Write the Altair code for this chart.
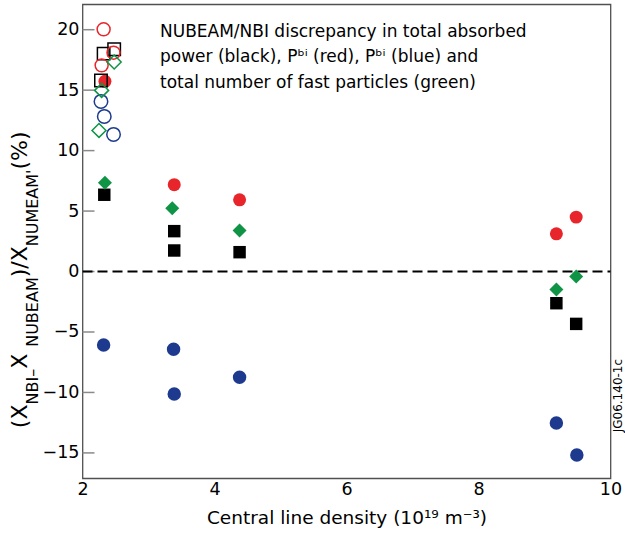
import altair as alt
import pandas as pd

FONT = "DejaVu Sans"

# ---- data ----
# filled symbols
black_x = [2.33, 3.39, 3.39, 4.38, 9.18, 9.48]
black_y = [6.35, 3.34, 1.74, 1.60, -2.62, -4.33]
red_x = [2.34, 3.39, 4.38, 9.18, 9.48]
red_y = [15.73, 7.18, 5.93, 3.12, 4.50]
blue_x = [2.32, 3.38, 3.39, 4.38, 9.18, 9.49]
blue_y = [-6.07, -6.43, -10.13, -8.75, -12.53, -15.17]
green_x = [2.34, 3.36, 4.38, 9.18, 9.48]
green_y = [7.34, 5.24, 3.39, -1.49, -0.41]

# open symbols
open_black_x = [2.48, 2.32, 2.28]
open_black_y = [18.38, 18.02, 15.80]
open_red_x = [2.32, 2.47, 2.29]
open_red_y = [20.03, 18.10, 17.05]
open_blue_x = [2.28, 2.33, 2.47]
open_blue_y = [14.07, 12.83, 11.34]
open_green_x = [2.48, 2.29, 2.25]
open_green_y = [17.33, 14.98, 11.67]

series_names = ["black", "red", "blue", "green"]
series_colors = ["#000000", "#e8252a", "#1d3a8f", "#0f9445"]
series_shapes = ["square", "circle", "circle", "diamond"]
series_sizes = [155, 195, 195, 255]

x_ticks = [2, 4, 6, 8, 10]
y_ticks = [-15, -10, -5, 0, 5, 10, 15, 20]

note_text = ("NUBEAM/NBI discrepancy in total absorbed\n"
             "power (black), P\u1d47\u2071 (red), P\u1d47\u2071 (blue) and\n"
             "total number of fast particles (green)")
note_x = [3.174]
note_y = [19.40]

x_title = "Central line density (10\u00b9\u2079 m\u207b\u00b3)"
figure_id = "JG06.140-1c"

# y-axis title pieces (main text / subscript)
y_title_parts = [
    ("(X", "main"),
    ("NBI\u2013", "sub"),
    (" X", "main"),
    ("NUBEAM", "sub"),
    (")/X", "main"),
    ("NUMEAM'", "sub"),
    (" (%)", "main"),
]

# approximate DejaVu Sans advance widths (em) used to chain the title pieces
ADV = {"(": 0.390, ")": 0.390, "X": 0.685, "N": 0.748, "B": 0.686, "I": 0.295,
       "\u2013": 0.500, "U": 0.732, "E": 0.632, "A": 0.684, "M": 0.863,
       "/": 0.337, "'": 0.275, " ": 0.318, "%": 0.950}
MAIN_FS, SUB_FS = 22, 16
MAIN_X, SUB_X = -55.5, -45.0   # baselines, relative to plot's left edge
TITLE_CENTER = 272.0           # vertical centre of the title, plot coords


def frame(xs, ys, name, filled):
    return pd.DataFrame({"x": xs, "y": ys, "series": name, "filled": filled})


filled_df = pd.concat([
    frame(black_x, black_y, "black", True),
    frame(red_x, red_y, "red", True),
    frame(blue_x, blue_y, "blue", True),
    frame(green_x, green_y, "green", True),
])
open_df = pd.concat([
    frame(open_black_x, open_black_y, "black", False),
    frame(open_red_x, open_red_y, "red", False),
    frame(open_blue_x, open_blue_y, "blue", False),
    frame(open_green_x, open_green_y, "green", False),
])

xscale = alt.Scale(domain=[2, 10], nice=False, zero=False)
yscale = alt.Scale(domain=[-17.1, 22.1], nice=False, zero=False)

xenc = alt.X("x:Q", scale=xscale, axis=alt.Axis(
    values=x_ticks, title=x_title, format="d", ticks=False, tickSize=0, domain=False,
    grid=False, labelFlush=False, labelFontSize=17.5, labelFont=FONT, labelColor="#000",
    labelBaseline="alphabetic", labelPadding=16,
    titleFont=FONT, titleFontSize=18.5, titleFontWeight="normal", titleColor="#000",
    titleBaseline="alphabetic", titleX=264, titleY=45.5))
yenc = alt.Y("y:Q", scale=yscale, axis=alt.Axis(
    values=y_ticks, title=None, ticks=False, tickSize=0, domain=False, grid=False,
    labelFontSize=17.5, labelFont=FONT, labelColor="#000", labelPadding=3.5,
    format="d"))

shape = alt.Shape("series:N", scale=alt.Scale(domain=series_names, range=series_shapes), legend=None)
color = alt.Color("series:N", scale=alt.Scale(domain=series_names, range=series_colors), legend=None)
size = alt.Size("series:N", scale=alt.Scale(domain=series_names, range=series_sizes), legend=None)

filled_layer = alt.Chart(filled_df).mark_point(filled=True, opacity=1).encode(
    x=xenc, y=yenc, shape=shape, color=color, size=size)
open_layer = alt.Chart(open_df).mark_point(filled=False, opacity=1, strokeWidth=1.5).encode(
    x="x:Q", y="y:Q", shape=shape, color=color, size=size)

tick_df = pd.DataFrame({"y": y_ticks})
tick_layer = alt.Chart(tick_df).mark_rule(color="#8a8a8a", strokeWidth=1.5).encode(
    y="y:Q", x=alt.value(0), x2=alt.value(12))

zero_layer = alt.Chart(pd.DataFrame({"y": [0]})).mark_rule(
    color="#000", strokeWidth=2, strokeDash=[10, 5]).encode(
    y="y:Q", x=alt.value(0), x2=alt.value(528))

note_layer = alt.Chart(pd.DataFrame({"x": note_x, "y": note_y, "t": [note_text]})).mark_text(
    align="left", baseline="alphabetic", font=FONT, fontSize=17, lineBreak="\n",
    lineHeight=25.5, color="#000").encode(x="x:Q", y="y:Q", text="t:N")

layers = [tick_layer, zero_layer, filled_layer, open_layer, note_layer]

# chain the rotated title pieces upward
lengths = []
for txt, kind in y_title_parts:
    fs = MAIN_FS if kind == "main" else SUB_FS
    lengths.append(sum(ADV.get(c, 0.6) for c in txt) * fs)
pos = TITLE_CENTER + sum(lengths) / 2
for (txt, kind), ln in zip(y_title_parts, lengths):
    fs = MAIN_FS if kind == "main" else SUB_FS
    xpos = MAIN_X if kind == "main" else SUB_X
    layers.append(alt.Chart(pd.DataFrame({"t": [txt]})).mark_text(
        align="left", baseline="alphabetic", angle=270, font=FONT, fontSize=fs,
        color="#000").encode(x=alt.value(xpos), y=alt.value(pos), text="t:N"))
    pos -= ln

layers.append(alt.Chart(pd.DataFrame({"t": [figure_id]})).mark_text(
    align="left", baseline="alphabetic", angle=270, font=FONT, fontSize=12,
    color="#000").encode(x=alt.value(539), y=alt.value(428), text="t:N"))

chart = alt.layer(*layers).properties(
    width=528, height=474,
    autosize=alt.AutoSizeParams(type="none"),
    padding={"left": 82.5, "top": 4.3, "right": 14.5, "bottom": 57.7},
    background="white",
).configure_view(stroke="#505050", strokeWidth=1.3)

chart.save("out.html", embed_options={"renderer": "svg", "actions": False})
